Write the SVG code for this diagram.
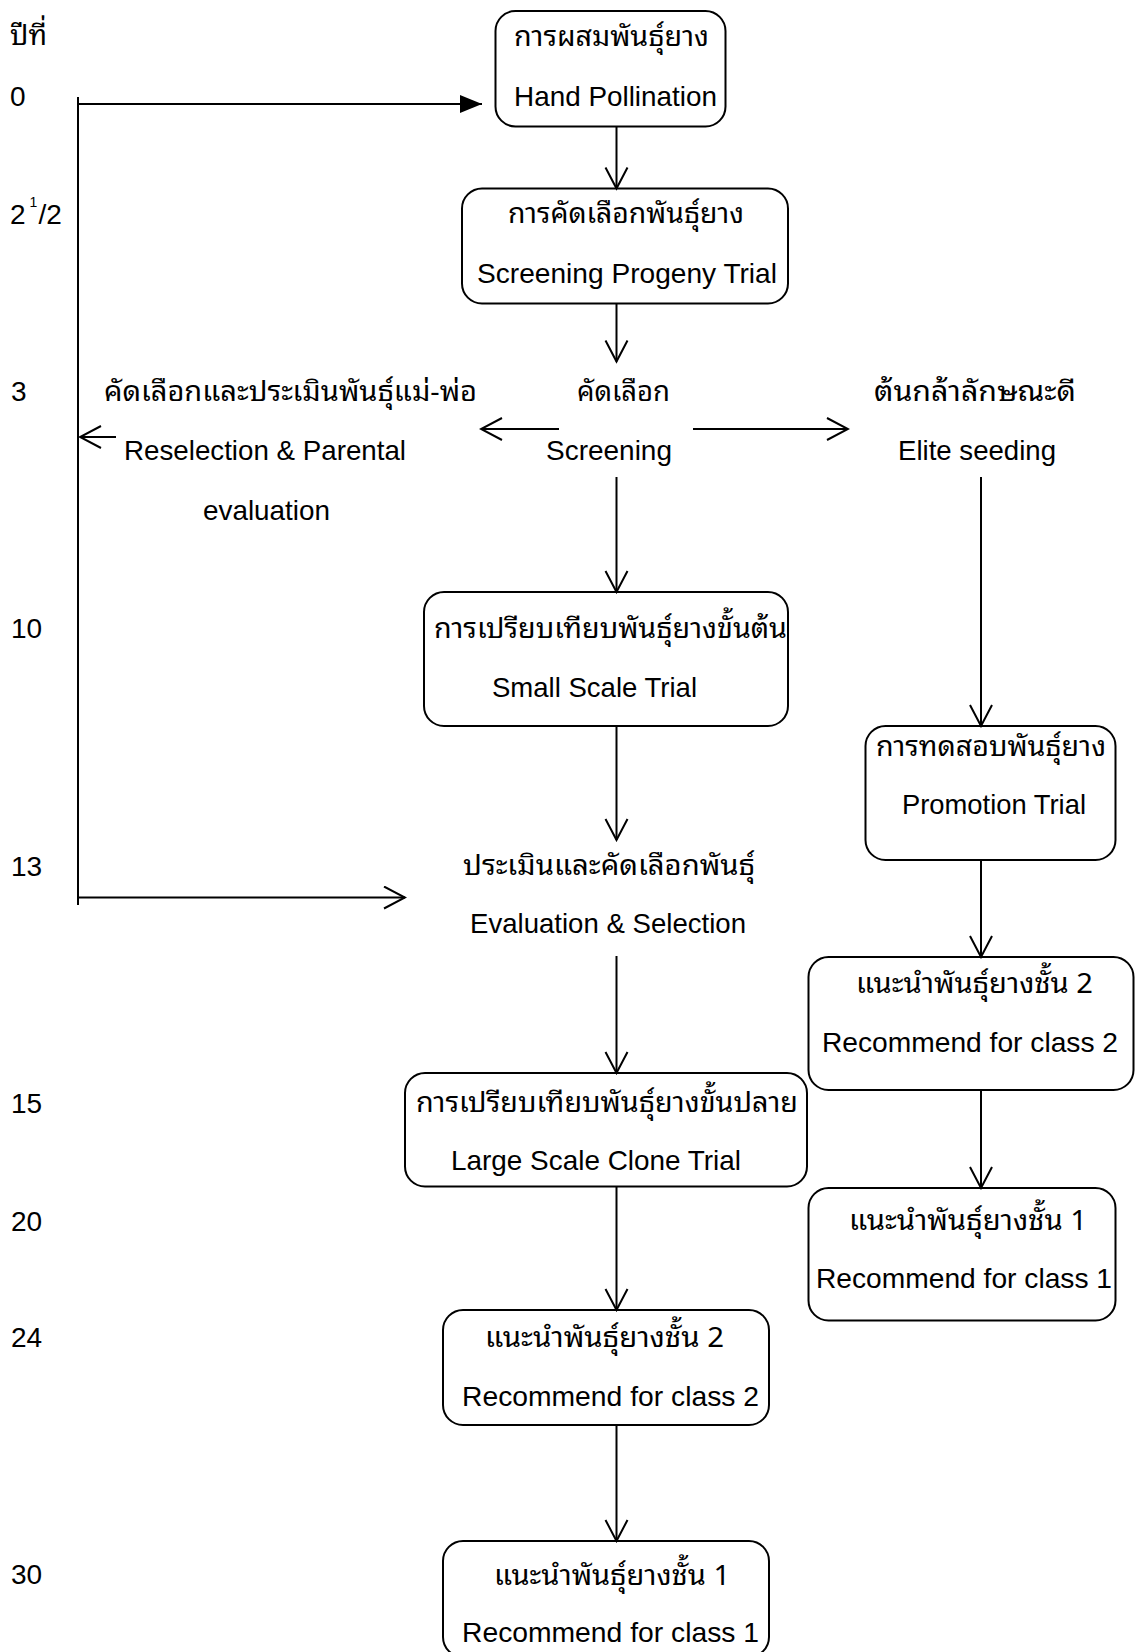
<svg xmlns="http://www.w3.org/2000/svg" width="1135" height="1652" viewBox="0 0 1135 1652">
<defs>
<style>
.box{fill:none;stroke:#000;stroke-width:2}
.ln{fill:none;stroke:#000;stroke-width:2}
.en{font-family:"Liberation Sans",Arial,sans-serif;font-size:28px;fill:#000}
.th{font-family:"Noto Sans Thai Looped","Loma","Garuda","Norasi","Noto Sans Thai","Tlwg Typo","Liberation Sans",sans-serif;font-size:28px;fill:#000}
.yr{font-family:"Liberation Sans",Arial,sans-serif;font-size:28px;fill:#000}
.sup{font-family:"Liberation Sans",Arial,sans-serif;font-size:14px;fill:#000}
</style>
<marker id="open" viewBox="0 0 24 26" refX="22" refY="12" markerWidth="24" markerHeight="26" markerUnits="userSpaceOnUse" orient="auto">
<path d="M1,1 L22,12 L1,23" fill="none" stroke="#000" stroke-width="2"/>
</marker>
<marker id="solid" viewBox="0 0 22 18" refX="22" refY="9" markerWidth="22" markerHeight="18" markerUnits="userSpaceOnUse" orient="auto">
<path d="M0,0 L22,9 L0,18 Z" fill="#000"/>
</marker>
</defs>
<rect width="1135" height="1652" fill="#fff"/>

<g id="years">
<text class="th" x="10" y="45" textLength="37" lengthAdjust="spacingAndGlyphs">ปีที่</text>
<text class="yr" x="10" y="106">0</text>
<text class="yr" x="10" y="224">2</text>
<text class="sup" x="29.5" y="207">1</text>
<text class="yr" x="38.5" y="224">/2</text>
<text class="yr" x="11" y="401">3</text>
<text class="yr" x="11" y="638">10</text>
<text class="yr" x="11" y="876">13</text>
<text class="yr" x="11" y="1113">15</text>
<text class="yr" x="11" y="1231">20</text>
<text class="yr" x="11" y="1347">24</text>
<text class="yr" x="11" y="1584">30</text>
</g>

<g id="connectors">
<line class="ln" x1="78" y1="97" x2="78" y2="905"/>
<line class="ln" x1="77" y1="104" x2="482" y2="104" marker-end="url(#solid)"/>
<line class="ln" x1="77" y1="897.5" x2="405" y2="897.5" marker-end="url(#open)"/>
<line class="ln" x1="116" y1="437" x2="80" y2="437" marker-end="url(#open)"/>
<line class="ln" x1="616.5" y1="127" x2="616.5" y2="188.5" marker-end="url(#open)"/>
<line class="ln" x1="616.5" y1="303.5" x2="616.5" y2="361.5" marker-end="url(#open)"/>
<line class="ln" x1="559" y1="429" x2="481" y2="429" marker-end="url(#open)"/>
<line class="ln" x1="693" y1="429" x2="848" y2="429" marker-end="url(#open)"/>
<line class="ln" x1="616.5" y1="477" x2="616.5" y2="592" marker-end="url(#open)"/>
<line class="ln" x1="981" y1="477" x2="981" y2="726" marker-end="url(#open)"/>
<line class="ln" x1="616.5" y1="726" x2="616.5" y2="840" marker-end="url(#open)"/>
<line class="ln" x1="981" y1="860" x2="981" y2="957" marker-end="url(#open)"/>
<line class="ln" x1="616.5" y1="956" x2="616.5" y2="1073" marker-end="url(#open)"/>
<line class="ln" x1="981" y1="1090" x2="981" y2="1188" marker-end="url(#open)"/>
<line class="ln" x1="616.5" y1="1187" x2="616.5" y2="1310" marker-end="url(#open)"/>
<line class="ln" x1="616.5" y1="1425" x2="616.5" y2="1541" marker-end="url(#open)"/>
</g>

<g id="hand-pollination">
<rect class="box" x="495.5" y="11" width="230" height="115.5" rx="20"/>
<text class="th" x="514" y="46" textLength="195" lengthAdjust="spacingAndGlyphs">การผสมพันธุ์ยาง</text>
<text class="en" x="514" y="106" textLength="203" lengthAdjust="spacingAndGlyphs">Hand Pollination</text>
</g>

<g id="screening-progeny">
<rect class="box" x="462" y="188.5" width="326" height="115" rx="20"/>
<text class="th" x="508" y="223" textLength="236" lengthAdjust="spacingAndGlyphs">การคัดเลือกพันธุ์ยาง</text>
<text class="en" x="477" y="283" textLength="300" lengthAdjust="spacingAndGlyphs">Screening Progeny Trial</text>
</g>

<g id="screening">
<text class="th" x="577" y="401" textLength="93" lengthAdjust="spacingAndGlyphs">คัดเลือก</text>
<text class="en" x="546" y="460" textLength="126" lengthAdjust="spacingAndGlyphs">Screening</text>
</g>

<g id="reselection">
<text class="th" x="104" y="401" textLength="373" lengthAdjust="spacingAndGlyphs">คัดเลือกและประเมินพันธุ์แม่-พ่อ</text>
<text class="en" x="124" y="460" textLength="282" lengthAdjust="spacingAndGlyphs">Reselection &amp; Parental</text>
<text class="en" x="203" y="520" textLength="127" lengthAdjust="spacingAndGlyphs">evaluation</text>
</g>

<g id="elite-seeding">
<text class="th" x="874" y="401" textLength="202" lengthAdjust="spacingAndGlyphs">ต้นกล้าลักษณะดี</text>
<text class="en" x="898" y="460" textLength="158" lengthAdjust="spacingAndGlyphs">Elite seeding</text>
</g>

<g id="small-scale">
<rect class="box" x="424" y="592" width="364" height="134" rx="20"/>
<text class="th" x="434" y="638" textLength="353" lengthAdjust="spacingAndGlyphs">การเปรียบเทียบพันธุ์ยางขั้นต้น</text>
<text class="en" x="492" y="697" textLength="205" lengthAdjust="spacingAndGlyphs">Small Scale Trial</text>
</g>

<g id="promotion">
<rect class="box" x="865.5" y="726" width="250" height="134" rx="20"/>
<text class="th" x="876" y="756" textLength="230" lengthAdjust="spacingAndGlyphs">การทดสอบพันธุ์ยาง</text>
<text class="en" x="902" y="814" textLength="184" lengthAdjust="spacingAndGlyphs">Promotion Trial</text>
</g>

<g id="evaluation-selection">
<text class="th" x="463" y="875" textLength="292" lengthAdjust="spacingAndGlyphs">ประเมินและคัดเลือกพันธุ์</text>
<text class="en" x="470" y="933" textLength="276" lengthAdjust="spacingAndGlyphs">Evaluation &amp; Selection</text>
</g>

<g id="class2-right">
<rect class="box" x="808.5" y="957" width="325" height="133" rx="20"/>
<text class="th" x="856" y="993" textLength="237" lengthAdjust="spacingAndGlyphs">แนะนำพันธุ์ยางชั้น 2</text>
<text class="en" x="822" y="1052" textLength="296" lengthAdjust="spacingAndGlyphs">Recommend for class 2</text>
</g>

<g id="large-scale">
<rect class="box" x="405" y="1073" width="402" height="113.5" rx="20"/>
<text class="th" x="416" y="1112" textLength="382" lengthAdjust="spacingAndGlyphs">การเปรียบเทียบพันธุ์ยางขั้นปลาย</text>
<text class="en" x="451" y="1170" textLength="290" lengthAdjust="spacingAndGlyphs">Large Scale Clone Trial</text>
</g>

<g id="class1-right">
<rect class="box" x="808.5" y="1188" width="307" height="132.5" rx="20"/>
<text class="th" x="849" y="1230" textLength="238" lengthAdjust="spacingAndGlyphs">แนะนำพันธุ์ยางชั้น 1</text>
<text class="en" x="816" y="1288" textLength="296" lengthAdjust="spacingAndGlyphs">Recommend for class 1</text>
</g>

<g id="class2-left">
<rect class="box" x="443" y="1310" width="326" height="115" rx="20"/>
<text class="th" x="485" y="1347" textLength="239" lengthAdjust="spacingAndGlyphs">แนะนำพันธุ์ยางชั้น 2</text>
<text class="en" x="462" y="1406" textLength="297" lengthAdjust="spacingAndGlyphs">Recommend for class 2</text>
</g>

<g id="class1-left">
<rect class="box" x="443" y="1541" width="326" height="116" rx="20"/>
<text class="th" x="494" y="1585" textLength="236" lengthAdjust="spacingAndGlyphs">แนะนำพันธุ์ยางชั้น 1</text>
<text class="en" x="462" y="1642" textLength="297" lengthAdjust="spacingAndGlyphs">Recommend for class 1</text>
</g>
</svg>
